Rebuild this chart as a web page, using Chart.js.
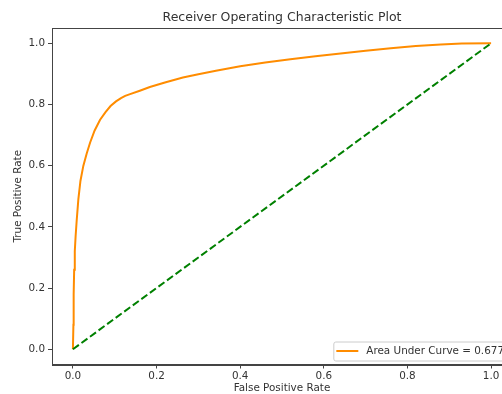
<!DOCTYPE html>
<html>
<head>
<meta charset="utf-8">
<script src="https://cdn.jsdelivr.net/npm/chart.js@4/dist/chart.umd.min.js"></script>
<style>
  html, body { margin: 0; padding: 0; background: #fff; overflow: hidden; width: 502px; height: 394px; }
  canvas { display: block; }
</style>
</head>
<body>
<canvas id="c" width="520" height="394"></canvas>
<script>
// ---- Data ----
const fpr = [0, 0.0012, 0.0018, 0.003, 0.0045, 0.0065, 0.009, 0.013, 0.018, 0.025, 0.033, 0.041, 0.052, 0.065, 0.078, 0.090, 0.103, 0.115, 0.125, 0.135, 0.160, 0.184, 0.220, 0.263, 0.300, 0.342, 0.400, 0.460, 0.520, 0.580, 0.640, 0.700, 0.760, 0.820, 0.880, 0.930, 1.0];
const tpr = [0, 0.08, 0.18, 0.26, 0.32, 0.37, 0.42, 0.49, 0.55, 0.60, 0.64, 0.675, 0.715, 0.75, 0.775, 0.795, 0.810, 0.821, 0.828, 0.833, 0.845, 0.857, 0.872, 0.888, 0.899, 0.910, 0.925, 0.937, 0.948, 0.958, 0.967, 0.976, 0.984, 0.991, 0.996, 0.999, 1.0];
const chanceX = [0, 1];
const chanceY = [0, 1];
const xTicks = [0, 0.2, 0.4, 0.6, 0.8, 1.0];
const yTicks = [0, 0.2, 0.4, 0.6, 0.8, 1.0];
const rocLabel = 'Area Under Curve = 0.677';
const chartTitle = 'Receiver Operating Characteristic Plot';
const xLabel = 'False Positive Rate';
const yLabel = 'True Positive Rate';

const FONT = "'DejaVu Sans', sans-serif";
const TEXT = '#333';
const SPINE = '#444';
const FS = 10.4;

const framePlugin = {
  id: 'frame',
  afterDatasetsDraw(chart) {
    const {ctx, chartArea: a} = chart;
    ctx.save();
    ctx.strokeStyle = SPINE;
    ctx.lineWidth = 1;
    ctx.strokeRect(Math.round(a.left) + 0.5, Math.round(a.top) + 0.5, Math.round(a.right - a.left), Math.round(a.bottom - a.top));
    ctx.restore();
  }
};

const legendPlugin = {
  id: 'boxLegend',
  afterDraw(chart) {
    const {ctx, chartArea: a} = chart;
    const ds = chart.data.datasets[0];
    ctx.save();
    ctx.font = FS + 'px ' + FONT;
    const tw = ctx.measureText(ds.label).width;
    const right = a.right - 4, bottom = a.bottom - 4;
    const h = 19;
    const w = 3 + 22 + 8 + tw + 4;
    const left = right - w, top = bottom - h;
    ctx.beginPath();
    if (ctx.roundRect) ctx.roundRect(left + 0.5, top + 0.5, w, h, 2); else ctx.rect(left + 0.5, top + 0.5, w, h);
    ctx.fillStyle = 'rgba(255,255,255,0.8)';
    ctx.fill();
    ctx.strokeStyle = '#cccccc';
    ctx.lineWidth = 1;
    ctx.stroke();
    const cy = top + h / 2;
    ctx.beginPath();
    ctx.moveTo(left + 3, cy);
    ctx.lineTo(left + 25, cy);
    ctx.strokeStyle = ds.borderColor;
    ctx.lineWidth = 2;
    ctx.stroke();
    ctx.fillStyle = TEXT;
    ctx.textBaseline = 'middle';
    ctx.textAlign = 'left';
    ctx.fillText(ds.label, left + 33, cy + 0.5);
    ctx.restore();
  }
};

new Chart(document.getElementById('c'), {
  type: 'scatter',
  data: {
    datasets: [
      {
        label: rocLabel,
        data: fpr.map((x, i) => ({x: x, y: tpr[i]})),
        showLine: true,
        borderColor: '#ff8c00',
        backgroundColor: '#ff8c00',
        borderWidth: 2,
        pointRadius: 0,
        tension: 0,
        fill: false,
        order: 1
      },
      {
        label: 'chance',
        data: chanceX.map((x, i) => ({x: x, y: chanceY[i]})),
        showLine: true,
        borderColor: '#008000',
        backgroundColor: '#008000',
        borderWidth: 2,
        borderDash: [7.4, 3.2],
        pointRadius: 0,
        fill: false,
        order: 0
      }
    ]
  },
  options: {
    responsive: false,
    animation: false,
    devicePixelRatio: 1,
    layout: { padding: { left: 0, top: 0, right: 8, bottom: 0 } },
    plugins: {
      legend: { display: false },
      tooltip: { enabled: false },
      title: {
        display: true,
        text: chartTitle,
        fullSize: false,
        color: TEXT,
        font: { family: FONT, size: 12.5, weight: 'normal' },
        padding: { top: 10.5, bottom: 2.5 }
      }
    },
    scales: {
      x: {
        type: 'linear',
        min: -0.05,
        max: 1.05,
        afterBuildTicks: s => { s.ticks = xTicks.map(v => ({value: v})); },
        afterFit: s => { s.height = 29.5; },
        grid: { drawOnChartArea: false, drawTicks: true, tickLength: 4, tickColor: SPINE, tickWidth: 1 },
        border: { display: true, color: SPINE, width: 1 },
        ticks: { color: TEXT, font: { family: FONT, size: FS }, padding: 2, maxRotation: 0, callback: v => Number(v).toFixed(1) },
        title: { display: true, text: xLabel, color: TEXT, font: { family: FONT, size: FS }, padding: { top: 0, bottom: -0.5 } }
      },
      y: {
        type: 'linear',
        min: -0.05,
        max: 1.05,
        afterBuildTicks: s => { s.ticks = yTicks.map(v => ({value: v})); },
        afterFit: s => { s.width = 52; },
        grid: { drawOnChartArea: false, drawTicks: true, tickLength: 4, tickColor: SPINE, tickWidth: 1 },
        border: { display: true, color: SPINE, width: 1 },
        ticks: { color: TEXT, font: { family: FONT, size: FS }, padding: 3, callback: v => Number(v).toFixed(1) },
        title: { display: true, text: yLabel, color: TEXT, font: { family: FONT, size: FS }, padding: { top: 12, bottom: 0 } }
      }
    }
  },
  plugins: [framePlugin, legendPlugin]
});
</script>
</body>
</html>
